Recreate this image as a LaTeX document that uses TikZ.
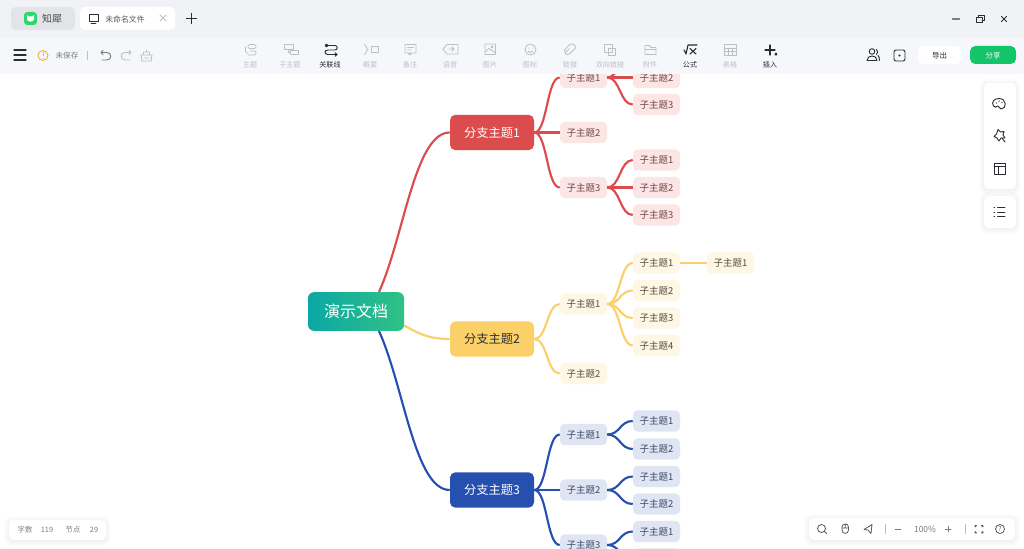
\documentclass[tikz,border=0pt]{standalone}
\usepackage{fontspec}
\setmainfont{Noto Sans CJK SC}
\usetikzlibrary{calc}
\definecolor{cred}{HTML}{DC4C4C}\definecolor{cyel}{HTML}{FBD068}\definecolor{cblu}{HTML}{2650B0}
\definecolor{fred}{HTML}{FBE5E5}\definecolor{fyel}{HTML}{FFF7E6}\definecolor{fblu}{HTML}{E0E5F3}
\definecolor{tred}{HTML}{704444}\definecolor{tyel}{HTML}{544B38}\definecolor{tblu}{HTML}{3C4768}
\definecolor{off}{HTML}{BDBFC4}\definecolor{ink}{HTML}{2B2D33}\definecolor{soft}{HTML}{7A7C82}
\definecolor{rootl}{HTML}{0BA8A5}\definecolor{rootr}{HTML}{30C185}
\definecolor{topbar}{HTML}{F1F2F6}\definecolor{toolbar}{HTML}{F6F7FB}\definecolor{tabgrey}{HTML}{E3E4E8}
\definecolor{logo}{HTML}{2FD66F}\definecolor{warn}{HTML}{F5B13D}\definecolor{share}{HTML}{13C468}
\tikzset{
 subbox/.style={rounded corners=3.5pt,minimum width=35.25pt,minimum height=16pt,inner sep=0pt,font=\fontsize{7.1pt}{8pt}\selectfont},
 sr/.style={subbox,fill=fred,text=tred},
 sy/.style={subbox,fill=fyel,text=tyel},
 sb/.style={subbox,fill=fblu,text=tblu},
 branch/.style={rounded corners=4pt,minimum width=63pt,minimum height=26.5pt,inner sep=0pt,font=\fontsize{9.2pt}{11pt}\selectfont},
 lr/.style={draw=cred,line width=1.6pt},
 ly/.style={draw=cyel,line width=1.6pt},
 lb/.style={draw=cblu,line width=1.6pt},
 lab/.style={inner sep=0pt,font=\fontsize{5.3pt}{6pt}\selectfont,text=off},
 labon/.style={lab,text=ink},
 ic/.style={draw=off,line width=.6pt,line cap=round,line join=round},
 icon/.style={draw=ink,line width=.7pt,line cap=round,line join=round},
 ibar/.style={draw=soft,line width=.6pt,line cap=round,line join=round},
 small/.style={inner sep=0pt,font=\fontsize{5.5pt}{6pt}\selectfont,text=soft},
}
\newcommand{\lnk}[3]{\draw[#1] (#2.east) .. controls +(13,0) and +(-13,0) .. (#3.west);}
\newcommand{\softpanel}[4]{%
 \fill[black,opacity=.012,rounded corners=6pt] (#1-5,#2-4) rectangle (#3+5,#4+6);
 \fill[black,opacity=.018,rounded corners=5pt] (#1-3,#2-2) rectangle (#3+3,#4+4);
 \fill[black,opacity=.02,rounded corners=4pt] (#1-1,#2) rectangle (#3+1,#4+2);
 \fill[white,rounded corners=3.5pt] (#1,#2) rectangle (#3,#4);}
\begin{document}
\begin{tikzpicture}[x=0.75pt,y=-0.75pt]
\useasboundingbox (0,0) rectangle (1024,549);
\fill[white] (0,0) rectangle (1024,549);
\begin{scope}
\clip (0,74) rectangle (1024,549);
\node[rounded corners=4.5pt,minimum width=72pt,minimum height=29pt,inner sep=0pt,left color=rootl,right color=rootr,text=white,font=\fontsize{12pt}{14pt}\selectfont] (root) at (356,311.5) {演示文档};
\node[branch,fill=cred,text=white] (b1) at (492,132.5) {分支主题1};
\node[branch,fill=cyel,text=ink] (b2) at (492,339) {分支主题2};
\node[branch,fill=cblu,text=white] (b3) at (492,490) {分支主题3};
\node[sr] (a1) at (583.5,77.5) {子主题1};
\node[sr] (a2) at (583.5,132.5) {子主题2};
\node[sr] (a3) at (583.5,187.5) {子主题3};
\node[sr] (a11) at (656.5,50) {子主题1};
\node[sr] (a12) at (656.5,77.5) {子主题2};
\node[sr] (a13) at (656.5,104.5) {子主题3};
\node[sr] (a31) at (656.5,160) {子主题1};
\node[sr] (a32) at (656.5,187.5) {子主题2};
\node[sr] (a33) at (656.5,215) {子主题3};
\node[sy] (c1) at (583.5,304) {子主题1};
\node[sy] (c2) at (583.5,373.5) {子主题2};
\node[sy] (c11) at (656.5,263) {子主题1};
\node[sy] (c12) at (656.5,290.5) {子主题2};
\node[sy] (c13) at (656.5,318) {子主题3};
\node[sy] (c14) at (656.5,345.5) {子主题4};
\node[sy] (c111) at (730.5,263) {子主题1};
\node[sb] (d1) at (583.5,434.5) {子主题1};
\node[sb] (d2) at (583.5,490) {子主题2};
\node[sb] (d3) at (583.5,545) {子主题3};
\node[sb] (d11) at (656.5,421) {子主题1};
\node[sb] (d12) at (656.5,449) {子主题2};
\node[sb] (d21) at (656.5,476.5) {子主题1};
\node[sb] (d22) at (656.5,504) {子主题2};
\node[sb] (d31) at (656.5,531.5) {子主题1};
\node[sb] (d32) at (656.5,559) {子主题2};
\coordinate (rt) at ($(root.north)+(23,0)$);
\coordinate (rb) at ($(root.south)+(23,0)$);
\coordinate (rr) at ($(root.east)+(0,14)$);
\draw[lr] (rt) .. controls +(25,-55) and +(-35,0) .. (b1.west);
\draw[lb] (rb) .. controls +(25,55) and +(-35,0) .. (b3.west);
\draw[ly] (rr) .. controls +(16,9) and +(-20,0) .. (b2.west);
\lnk{lr}{b1}{a1}\lnk{lr}{b1}{a2}\lnk{lr}{b1}{a3}
\lnk{lr}{a1}{a11}\lnk{lr}{a1}{a12}\lnk{lr}{a1}{a13}
\lnk{lr}{a3}{a31}\lnk{lr}{a3}{a32}\lnk{lr}{a3}{a33}
\lnk{ly}{b2}{c1}\lnk{ly}{b2}{c2}
\lnk{ly}{c1}{c11}\lnk{ly}{c1}{c12}\lnk{ly}{c1}{c13}\lnk{ly}{c1}{c14}\lnk{ly}{c11}{c111}
\lnk{lb}{b3}{d1}\lnk{lb}{b3}{d2}\lnk{lb}{b3}{d3}
\lnk{lb}{d1}{d11}\lnk{lb}{d1}{d12}
\lnk{lb}{d2}{d21}\lnk{lb}{d2}{d22}
\lnk{lb}{d3}{d31}\lnk{lb}{d3}{d32}
\end{scope}
% title strip and toolbar
\fill[topbar] (0,0) rectangle (1024,38);
\fill[toolbar] (0,38) rectangle (1024,74);
% tabs
\fill[tabgrey,rounded corners=3.5pt] (11,7) rectangle (75,30);
\fill[white,rounded corners=3.5pt] (80,7) rectangle (175,30);
\fill[logo,rounded corners=2.5pt] (24,12) rectangle (37,25);
\fill[white] (27,15) -- (28.5,16.5) -- (32.5,16.5) -- (34,15) -- (34,19) .. controls (34,22.5) and (27,22.5) .. (27,19) -- cycle;
\node[inner sep=0pt,text=ink!85,font=\fontsize{7.5pt}{9pt}\selectfont] (tab1) at (52,18.5) {知犀};
\draw[icon,line width=.55pt] (89,14.5) rectangle (98,21);
\draw[icon,line width=.55pt] (91,23.5) -- (96,23.5);
\node[inner sep=0pt,text=ink!80,font=\fontsize{5.9pt}{7pt}\selectfont] (tab2) at (125,19) {未命名文件};
\draw[ibar,draw=off] (160,15) -- (166,21) (166,15) -- (160,21);
\draw[icon,line width=.9pt] (186.5,18.5) -- (196.5,18.5) (191.5,13.5) -- (191.5,23.5);
% window controls
\draw[ibar,line width=.9pt] (952.5,19) -- (959.5,19);
\draw[icon,line width=.6pt] (976.5,17) rectangle (982,22.5);
\draw[icon,line width=.6pt] (978.5,17) -- (978.5,15) -- (984,15) -- (984,20.5) -- (982,20.5);
\draw[icon,line width=.6pt] (1001.5,16.5) -- (1006.5,21.5) (1006.5,16.5) -- (1001.5,21.5);
% left tools
\draw[icon,line width=.85pt] (14,50) -- (26,50) (14,55) -- (26,55) (14,60) -- (26,60);
\draw[warn,line width=.7pt] (43,55.5) circle[radius=5];
\draw[warn,line width=.7pt] (43,52.5) -- (43,56) (43,57.6) -- (43,58.1);
\node[inner sep=0pt,text=soft,font=\fontsize{5.7pt}{7pt}\selectfont] (unsaved) at (67,55.5) {未保存};
\draw[off,line width=.4pt] (87,51) -- (87,60);
\draw[ibar,line width=.7pt] (103,50.5) -- (101,52.5) -- (103,54.5) (101,52.5) -- (107,52.5) .. controls (112,52.5) and (112,60) .. (107,60) -- (102,60);
\draw[ic,line width=.7pt] (129,50.5) -- (131,52.5) -- (129,54.5) (131,52.5) -- (125,52.5) .. controls (120,52.5) and (120,60) .. (125,60) -- (130,60);
\draw[ic,line width=.7pt] (141,55) -- (152,55) -- (151,61) -- (142,61) -- cycle (143.5,55) -- (143.5,52) -- (149.5,52) -- (149.5,55) (146.5,52) -- (146.5,50) (144,58) -- (149,58);
% toolbar labels
\node[lab] (t1) at (250,64.5) {主题};
\node[lab] (t2) at (290,64.5) {子主题};
\node[labon] (t3) at (330,64.5) {关联线};
\node[lab] (t4) at (370,64.5) {概要};
\node[lab] (t5) at (410,64.5) {备注};
\node[lab] (t6) at (450,64.5) {语音};
\node[lab] (t7) at (490,64.5) {图片};
\node[lab] (t8) at (530,64.5) {图标};
\node[lab] (t9) at (570,64.5) {链接};
\node[lab] (t10) at (610,64.5) {双向链接};
\node[lab] (t11) at (650,64.5) {附件};
\node[labon] (t12) at (690,64.5) {公式};
\node[lab] (t13) at (730,64.5) {表格};
\node[labon] (t14) at (770,64.5) {插入};
% toolbar icons
\draw[ic,rounded corners=1pt] (248,44.5) -- (256,44.5) -- (256,48.5) -- (248,48.5) -- cycle (250,51) -- (256,51) -- (256,55) -- (248,55);
\draw[ic,rounded corners=1pt] (245.5,47) -- (245.5,53) -- (248,53);
\draw[ic] (284,44.5) rectangle (293,49.5) (288,49.5) -- (288,52.5) -- (290,52.5) (290,50.5) rectangle (298,54.5);
\draw[icon] (326,45.5) -- (335,45.5) .. controls (338,45.5) and (338,50) .. (335,50) -- (328,50) .. controls (324,50) and (324,54.5) .. (328,54.5) -- (337,54.5);
\draw[icon] (326.5,45.5) circle[radius=1.4] (335,52.8) -- (337,54.5) -- (335,56.2);
\draw[ic] (364,44.5) .. controls (367,44.5) and (366,49.5) .. (368,49.5) .. controls (366,49.5) and (367,54.5) .. (364,54.5);
\draw[ic] (371,46.5) rectangle (378,52);
\draw[ic] (405,44.5) rectangle (416,53) (408,53) -- (410,55) -- (412,53) (407.5,47.5) -- (413.5,47.5) (407.5,50) -- (411,50);
\draw[ic] (447,44.5) -- (458,44.5) -- (458,54) -- (447,54) -- (443,49.2) -- cycle (449,49) -- (454,49) (452,47) -- (454,49) -- (452,51);
\draw[ic] (485,44) rectangle (495.5,54.5) (485,52) -- (489,48.5) -- (495.5,53) (492,47) circle[radius=1];
\draw[ic] (530.5,49.5) circle[radius=5.5] (528.5,48) -- (528.5,48.2) (532.5,48) -- (532.5,48.2) (528,51) .. controls (529.5,53) and (531.5,53) .. (533,51);
\draw[ic] (565,53) -- (569,49) (565,53) .. controls (563,51) and (565,49) .. (567,47) -- (570,44.5) .. controls (573,42.5) and (577,46) .. (575,48.5) -- (569.5,54) .. controls (567.5,55.5) and (566,54.5) .. (565,53) -- cycle;
\draw[ic] (604.5,44.5) rectangle (612,52) (608,48) rectangle (615.5,55.5);
\draw[ic] (645,45.5) -- (649,45.5) -- (651,47.5) -- (656,47.5) -- (656,54.5) -- (645,54.5) -- cycle (645,49.5) -- (656,49.5);
\draw[icon,line width=.85pt] (684,50) -- (686,54) -- (688,45) -- (697,45);
\draw[icon,line width=.85pt] (690,48.5) -- (696,54) (696,48.5) -- (690,54);
\draw[ic] (724.5,44.5) rectangle (736,55) (724.5,48) -- (736,48) (724.5,51.5) -- (736,51.5) (728.3,48) -- (728.3,55) (732.2,48) -- (732.2,55);
\draw[icon,line width=.85pt] (765,50) -- (775,50) (770,45) -- (770,55);
\fill[ink] (775,53) -- (777,53) -- (777,55.5) -- (774.5,55.5) -- cycle;
% right tools
\draw[icon] (872,51.5) circle[radius=2.8];
\draw[icon] (867,60.5) .. controls (867,54.5) and (877,54.5) .. (877,60.5) -- cycle;
\draw[icon] (876.5,49.5) .. controls (878,51) and (878,53) .. (876.5,54.5) (878,55.5) .. controls (879,56.5) and (879.5,58) .. (879.5,60.5);
\draw[icon,rounded corners=1.5pt] (894,50) rectangle (905,61);
\fill[ink] (899.5,55.5) circle[radius=1.2];
\fill[white,rounded corners=3.5pt] (918,46) rectangle (961,64);
\node[inner sep=0pt,text=ink,font=\fontsize{5.6pt}{7pt}\selectfont] (export) at (939.5,56) {导出};
\fill[share,rounded corners=4pt] (970,46) rectangle (1016,64);
\node[inner sep=0pt,text=white,font=\fontsize{5.6pt}{7pt}\selectfont] (sharelab) at (993,56) {分享};
% right panels
\softpanel{984}{83}{1016}{189}
\softpanel{984}{196}{1016}{228}
\draw[icon] (999,98.5) .. controls (1007,98.5) and (1007,109) .. (1001,109) .. controls (998.5,109) and (1000,106) .. (998,106) .. controls (995.5,106) and (995,109) .. (993.5,106) .. controls (991,102) and (994,98.5) .. (999,98.5) -- cycle;
\fill[ink] (996.5,103) circle[radius=.7] (999,101.2) circle[radius=.7] (1002,102.5) circle[radius=.7];
\draw[icon] (998,129.5) -- (1000.5,132) -- (1004,131.5) -- (1003,135) -- (1005,138) -- (1001,138) -- (999,141) -- (997,138) -- (994,136.5) -- (996.5,134) -- cycle;
\draw[icon] (1002,138) -- (1005,142);
\draw[icon] (994,163) rectangle (1005,174);
\draw[icon] (994,166.5) -- (1005,166.5) (998,166.5) -- (998,174);
\draw[icon] (997.5,207.5) -- (1005,207.5) (997.5,212) -- (1005,212) (997.5,216.5) -- (1005,216.5);
\draw[icon] (994,207.5) -- (994.6,207.5) (994,212) -- (994.6,212) (994,216.5) -- (994.6,216.5);
% bottom left panel
\softpanel{9}{520}{106}{540}
\node[small] (s1) at (25,530) {字数};
\node[small] (s2) at (47,530) {119};
\node[small] (s3) at (73,530) {节点};
\node[small] (s4) at (94,530) {29};
% bottom right panel
\softpanel{809}{518}{1015}{540}
\draw[ibar,draw=ink!80] (821.5,528.5) circle[radius=4];
\draw[ibar,draw=ink!80] (824.5,531.5) -- (826.5,533.5);
\draw[ibar,draw=ink!80] (842,527) .. controls (842,523) and (848.5,523) .. (848.5,527) -- (848.5,530) .. controls (848.5,534.5) and (842,534.5) .. (842,530) -- cycle (842,528) -- (848.5,528) (845.2,525) -- (845.2,528);
\draw[ibar,draw=ink!80] (872,524.5) -- (864,529.5) -- (868,530) -- (871,533.5) -- cycle;
\draw[off,line width=.3pt] (885.5,524) -- (885.5,534) (965.5,524) -- (965.5,534);
\draw[ibar] (895,529) -- (901,529) (945,529) -- (951,529) (948,526) -- (948,532);
\node[small,font=\fontsize{6.3pt}{7pt}\selectfont] (zoomlab) at (925,529.5) {100\%};
\draw[ibar,draw=ink!80] (975,525.5) -- (975,527) -- (976.5,525.5) -- cycle (983,525.5) -- (983,527) -- (981.5,525.5) -- cycle (975,533) -- (975,531.5) -- (976.5,533) -- cycle (983,533) -- (983,531.5) -- (981.5,533) -- cycle;
\draw[ibar,draw=ink!80] (1000,529) circle[radius=4.5];
\node[inner sep=0pt,text=ink!80,font=\fontsize{5pt}{6pt}\selectfont] (helpq) at (1000,529) {?};
\end{tikzpicture}
\end{document}
